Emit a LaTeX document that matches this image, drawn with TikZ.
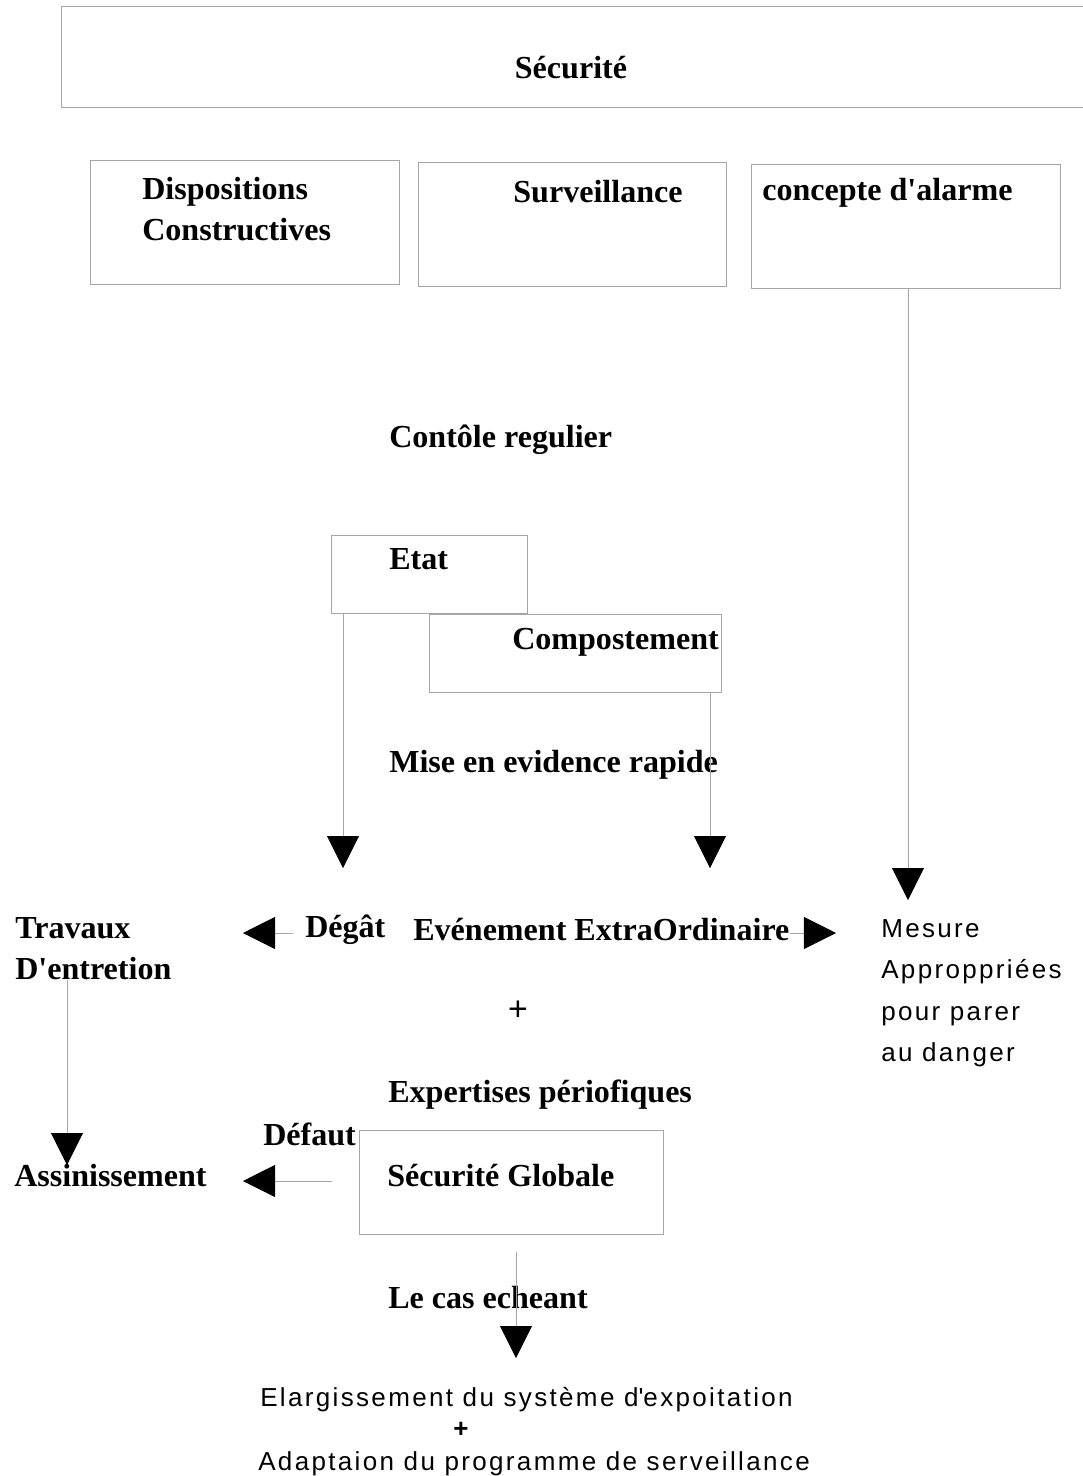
\documentclass[tikz,border=0pt]{standalone}
\usepackage{fontspec}
\setmainfont{Liberation Serif}
\newfontfamily\sansnote[LetterSpace=9]{Liberation Sans}
\usepackage{tikz}
\usetikzlibrary{arrows.meta,positioning,calc}

\begin{document}
\begin{tikzpicture}[
    x=0.025cm, y=-0.025cm,
    box/.style={rectangle, draw=gray!70, line width=0.6pt, inner sep=0pt},
    lbl/.style={font=\bfseries\fontsize{22.8}{29}\selectfont, inner sep=0pt, anchor=west, align=left, yshift=-0.06cm},
    note/.style={font=\sansnote\fontsize{18.5}{29.6}\selectfont, inner sep=0pt, anchor=west, align=left, yshift=-0.08cm},
    arrow/.style={draw=gray!70, line width=0.6pt, -{Triangle[width=0.8cm, length=0.8cm, color=black]}}
]
    \useasboundingbox (0,0) rectangle (1083,1476);
    \clip (0,0) rectangle (1083,1476);

    % Top
    \node[box, minimum width=25.7cm, minimum height=2.52cm] (secu) at (576,57) {};
    \node[lbl, anchor=center] (secut) at (571,65) {Sécurité};

    % Three pillars
    \node[box, minimum width=7.72cm, minimum height=3.08cm] (disp) at (244.5,222.5) {};
    \node[lbl] (dispt) at (142,207) {Dispositions\\Constructives};
    \node[box, minimum width=7.7cm, minimum height=3.08cm] (surv) at (572,224.5) {};
    \node[lbl, anchor=center] (survt) at (598,189) {Surveillance};
    \node[box, minimum width=7.72cm, minimum height=3.08cm] (alarm) at (905.5,226.5) {};
    \node[lbl] (alarmt) at (762,190) {concepte d\textquotesingle alarme};

    % Controle
    \node[lbl] (ctrl) at (389,437) {Contôle regulier};
    \node[box, minimum width=4.9cm, minimum height=1.95cm] (etat) at (429,574) {};
    \node[lbl] (etatt) at (389,557) {Etat};
    \node[box, minimum width=7.3cm, minimum height=1.95cm] (comp) at (575,653) {};
    \node[lbl] (compt) at (512,640) {Compostement};
    \node[lbl] (mise) at (389,762) {Mise en evidence rapide};

    % Middle row
    \node[lbl] (trav) at (15,946) {Travaux\\D\textquotesingle entretion};
    \node[lbl] (degat) at (305,927) {Dégât};
    \node[lbl] (evt) at (413,927) {Evénement ExtraOrdinaire};
    \node[note] (mes) at (881,990) {Mesure\\Approppriées\\pour parer\\au danger};
    \node[note, anchor=center, scale=1.3] (plus) at (518,1008) {+};

    % Expertises
    \node[lbl] (expert) at (388,1092) {Expertises périofiques};
    \node[lbl] (defaut) at (263,1132) {Défaut};
    \node[box, minimum width=7.58cm, minimum height=2.6cm] (sg) at (511.5,1182) {};
    \node[lbl] (sgt) at (387,1173) {Sécurité Globale};
    \node[lbl] (assin) at (14,1173) {Assinissement};
    \node[lbl] (cas) at (388,1295) {Le cas echeant};

    % Bottom
    \node[note] (elarg) at (260,1396) {Elargissement du système d\textquotesingle expoitation};
    \node[note, anchor=center, font=\sansnote\bfseries\fontsize{18.5}{29.6}\selectfont] (plusb) at (461,1427) {+};
    \node[note] (adapt) at (258,1461) {Adaptaion du programme de serveillance};

    % Arrow tips
    \coordinate (tipa) at (908,900);
    \coordinate (tipe) at (343,868);
    \coordinate (tipc) at (710,868);
    \coordinate (tipt) at (243,933);
    \coordinate (tipm) at (836,933);
    \coordinate (tipw) at (67,1165);
    \coordinate (tips) at (243,1181);
    \coordinate (tipl) at (516,1358);

    % Arrows
    \draw[arrow] (alarm.south -| tipa) -- (tipa);
    \draw[arrow] (etat.south -| tipe) -- (tipe);
    \draw[arrow] (comp.south -| tipc) -- (tipc);
    \draw[arrow, shorten <=0.3cm] (degat.west |- tipt) -- (tipt);
    \draw[arrow] (evt.east |- tipm) -- (tipm);
    \draw[arrow] (trav.south -| tipw) -- (tipw);
    \draw[arrow, shorten <=0.68cm] (sg.west |- tips) -- (tips);
    \draw[arrow, shorten <=0.45cm] (sg.south -| tipl) -- (tipl);
\end{tikzpicture}
\end{document}
